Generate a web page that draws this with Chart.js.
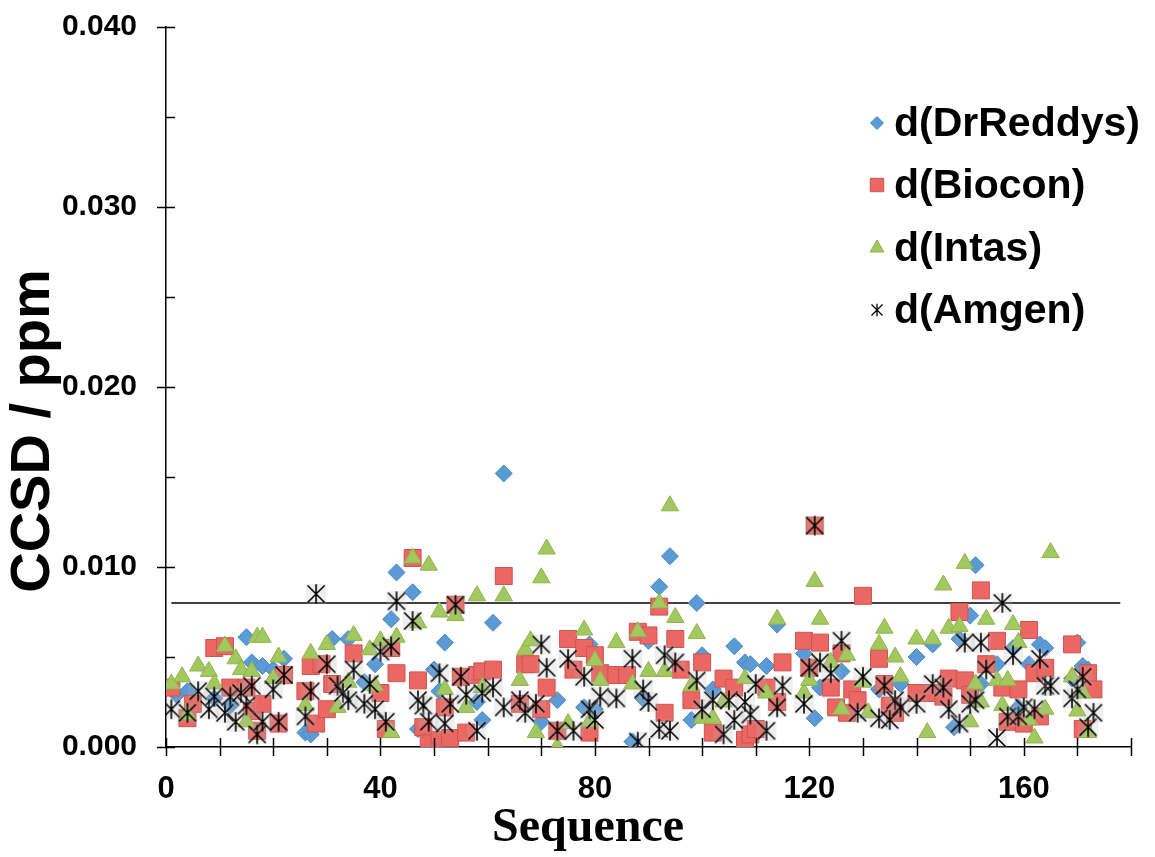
<!DOCTYPE html>
<html>
<head>
<meta charset="utf-8">
<script src="https://cdn.jsdelivr.net/npm/chart.js@4.4.0/dist/chart.umd.min.js"></script>
<style>
  html, body { margin: 0; padding: 0; background: #fff; }
  #wrap { width: 1155px; height: 857px; }
</style>
</head>
<body>
<div id="wrap"><canvas id="ccsdChart" width="1155" height="857"></canvas></div>
<script>
// residue number / CCSD (ppm)
const drReddysSeq = [2, 4, 9, 12, 15, 16, 18, 20, 22, 26, 27, 31, 34, 37, 39, 42, 43, 46, 47, 50, 51, 52, 58, 59, 61, 63, 70, 73, 78, 79, 80, 87, 89, 90, 92, 94, 98, 99, 100, 102, 106, 108, 109, 112, 114, 119, 121, 122, 126, 133, 137, 140, 143, 147, 148, 150, 151, 152, 155, 158, 159, 161, 163, 164, 169, 170, 171, 172];
const drReddysVal = [0.0029, 0.0031, 0.0027, 0.0023, 0.0061, 0.0047, 0.0045, 0.0043, 0.0049, 0.0008, 0.0007, 0.0060, 0.0060, 0.0036, 0.0046, 0.0071, 0.0097, 0.0086, 0.0010, 0.0043, 0.0031, 0.0058, 0.0025, 0.0015, 0.0069, 0.0152, 0.0014, 0.0026, 0.0022, 0.0057, 0.0021, 0.0003, 0.0027, 0.0059, 0.0089, 0.0106, 0.0015, 0.0080, 0.0051, 0.0032, 0.0056, 0.0047, 0.0046, 0.0045, 0.0068, 0.0052, 0.0016, 0.0033, 0.0042, 0.0032, 0.0035, 0.0050, 0.0057, 0.0011, 0.0060, 0.0073, 0.0101, 0.0035, 0.0046, 0.0055, 0.0022, 0.0046, 0.0057, 0.0055, 0.0038, 0.0058, 0.0045, 0.0043];

const bioconSeq = [1, 4, 5, 9, 11, 12, 15, 16, 17, 18, 21, 22, 26, 27, 28, 29, 30, 31, 35, 40, 41, 42, 43, 46, 47, 48, 49, 51, 52, 53, 54, 55, 56, 58, 59, 61, 63, 66, 67, 68, 70, 71, 73, 75, 76, 78, 79, 80, 81, 84, 86, 88, 90, 92, 93, 95, 96, 98, 100, 102, 104, 106, 108, 109, 110, 112, 114, 115, 119, 120, 121, 122, 124, 125, 126, 127, 128, 129, 130, 133, 134, 135, 136, 140, 143, 145, 146, 148, 149, 150, 152, 153, 155, 156, 157, 159, 160, 161, 162, 163, 164, 169, 171, 172, 173];
const bioconVal = [0.0033, 0.0016, 0.0024, 0.0055, 0.0056, 0.0033, 0.0033, 0.0020, 0.0009, 0.0024, 0.0013, 0.0040, 0.0031, 0.0045, 0.0013, 0.0046, 0.0021, 0.0035, 0.0052, 0.0030, 0.0010, 0.0055, 0.0041, 0.0105, 0.0037, 0.0011, 0.0002, 0.0004, 0.0022, 0.0005, 0.0079, 0.0039, 0.0008, 0.0040, 0.0042, 0.0043, 0.0095, 0.0024, 0.0046, 0.0046, 0.0021, 0.0033, 0.0009, 0.0060, 0.0043, 0.0055, 0.0008, 0.0051, 0.0041, 0.0040, 0.0040, 0.0064, 0.0062, 0.0078, 0.0019, 0.0060, 0.0043, 0.0026, 0.0047, 0.0008, 0.0038, 0.0033, 0.0004, 0.0007, 0.0010, 0.0033, 0.0025, 0.0047, 0.0059, 0.0044, 0.0123, 0.0058, 0.0033, 0.0022, 0.0052, 0.0019, 0.0032, 0.0026, 0.0084, 0.0049, 0.0035, 0.0023, 0.0019, 0.0030, 0.0030, 0.0028, 0.0038, 0.0075, 0.0037, 0.0029, 0.0087, 0.0046, 0.0059, 0.0033, 0.0014, 0.0032, 0.0013, 0.0065, 0.0041, 0.0017, 0.0044, 0.0057, 0.0010, 0.0041, 0.0032];

const intasSeq = [1, 3, 4, 6, 8, 9, 11, 13, 14, 15, 16, 17, 18, 20, 21, 26, 27, 30, 32, 34, 35, 38, 39, 40, 42, 43, 46, 47, 49, 51, 52, 54, 56, 58, 59, 63, 66, 67, 68, 69, 70, 71, 73, 75, 78, 79, 80, 81, 84, 87, 88, 90, 92, 93, 94, 95, 98, 99, 100, 102, 104, 108, 112, 114, 119, 120, 121, 122, 124, 126, 127, 130, 131, 133, 134, 136, 137, 140, 142, 143, 145, 146, 148, 149, 150, 151, 152, 153, 155, 156, 157, 158, 159, 161, 162, 164, 165, 169, 170, 171, 172];
const intasVal = [0.0035, 0.0039, 0.0018, 0.0045, 0.0042, 0.0035, 0.0056, 0.0049, 0.0043, 0.0014, 0.0042, 0.0061, 0.0061, 0.0038, 0.0050, 0.0023, 0.0052, 0.0057, 0.0022, 0.0036, 0.0062, 0.0054, 0.0034, 0.0059, 0.0008, 0.0061, 0.0105, 0.0069, 0.0101, 0.0075, 0.0032, 0.0073, 0.0022, 0.0084, 0.0033, 0.0084, 0.0037, 0.0054, 0.0059, 0.0008, 0.0094, 0.0110, 0.0000, 0.0013, 0.0065, 0.0014, 0.0048, 0.0037, 0.0058, 0.0035, 0.0064, 0.0042, 0.0080, 0.0042, 0.0134, 0.0072, 0.0034, 0.0063, 0.0016, 0.0016, 0.0025, 0.0038, 0.0030, 0.0071, 0.0030, 0.0037, 0.0092, 0.0071, 0.0047, 0.0021, 0.0051, 0.0036, 0.0019, 0.0057, 0.0066, 0.0050, 0.0039, 0.0060, 0.0008, 0.0060, 0.0090, 0.0066, 0.0067, 0.0102, 0.0014, 0.0035, 0.0025, 0.0071, 0.0037, 0.0023, 0.0037, 0.0068, 0.0058, 0.0015, 0.0005, 0.0021, 0.0108, 0.0039, 0.0020, 0.0030, 0.0008];

const amgenSeq = [1, 4, 6, 8, 9, 11, 12, 13, 14, 15, 16, 17, 18, 20, 21, 22, 26, 27, 28, 30, 32, 33, 34, 35, 37, 38, 39, 40, 41, 42, 43, 46, 47, 48, 49, 51, 52, 53, 54, 55, 56, 58, 59, 61, 63, 66, 67, 69, 70, 71, 73, 75, 76, 78, 79, 80, 81, 84, 87, 88, 89, 90, 92, 93, 94, 95, 99, 100, 102, 104, 105, 106, 108, 109, 110, 112, 114, 115, 119, 120, 121, 122, 124, 126, 129, 130, 133, 134, 135, 136, 137, 140, 143, 145, 146, 148, 149, 150, 151, 152, 153, 155, 156, 157, 158, 159, 160, 162, 163, 164, 165, 169, 170, 171, 172, 173];
const amgenVal = [0.0021, 0.0019, 0.0031, 0.0021, 0.0028, 0.0019, 0.0028, 0.0014, 0.0030, 0.0023, 0.0034, 0.0007, 0.0014, 0.0032, 0.0014, 0.0040, 0.0017, 0.0031, 0.0085, 0.0046, 0.0034, 0.0030, 0.0026, 0.0043, 0.0024, 0.0035, 0.0021, 0.0053, 0.0014, 0.0056, 0.0081, 0.0070, 0.0026, 0.0023, 0.0014, 0.0041, 0.0013, 0.0024, 0.0079, 0.0039, 0.0029, 0.0009, 0.0030, 0.0033, 0.0022, 0.0026, 0.0019, 0.0024, 0.0057, 0.0044, 0.0009, 0.0049, 0.0009, 0.0039, 0.0021, 0.0015, 0.0028, 0.0027, 0.0049, 0.0003, 0.0032, 0.0025, 0.0010, 0.0051, 0.0009, 0.0047, 0.0037, 0.0021, 0.0026, 0.0007, 0.0026, 0.0015, 0.0025, 0.0018, 0.0035, 0.0009, 0.0022, 0.0034, 0.0024, 0.0044, 0.0123, 0.0047, 0.0041, 0.0059, 0.0019, 0.0039, 0.0016, 0.0034, 0.0015, 0.0026, 0.0022, 0.0024, 0.0035, 0.0033, 0.0021, 0.0013, 0.0058, 0.0024, 0.0026, 0.0058, 0.0043, 0.0005, 0.0080, 0.0017, 0.0051, 0.0017, 0.0022, 0.0021, 0.0049, 0.0034, 0.0034, 0.0027, 0.0032, 0.0039, 0.0011, 0.0019];

// reference line at 0.008 ppm
const cutoffSeq = [1, 178];
const cutoffVal = 0.008;

const xLabelValues = [0, 40, 80, 120, 160];

function pairUp(seq, val) {
  return seq.map((s, i) => ({ x: s, y: val[i] }));
}

// asterisk marker (x plus vertical bar), as excel draws it
function makeStar(size, arm, lw, box) {
  const c = document.createElement("canvas");
  c.width = c.height = size;
  const g = c.getContext("2d");
  const h = size / 2;
  if (box) {
    g.fillStyle = "rgba(180,180,180,0.22)";
    g.fillRect(2, 2, size - 4, size - 4);
  }
  g.strokeStyle = "#000";
  g.lineWidth = lw;
  g.beginPath();
  g.moveTo(h - arm, h - arm); g.lineTo(h + arm, h + arm);
  g.moveTo(h + arm, h - arm); g.lineTo(h - arm, h + arm);
  g.moveTo(h, h - arm * 1.15); g.lineTo(h, h + arm * 1.15);
  g.stroke();
  return c;
}
const starBig = makeStar(24, 8.5, 1.6, true);
const starSmall = makeStar(16, 5.5, 1.3, false);

const seriesStyle = [
  { label: "d(DrReddys)", style: "rectRot", r: 8.5, lr: 6.5, fill: "#5B9BD5", edge: "#4B88C4" },
  { label: "d(Biocon)", style: "rect", r: 12, lr: 9.5, fill: "#EB6763", edge: "#CF5450" },
  { label: "d(Intas)", style: "triangle", r: 10, lr: 8, fill: "#A3C85F", edge: "#8FB44C" },
  { label: "d(Amgen)", style: starBig, r: 10, lr: 8, fill: "#000", edge: "#000" }
];

const axisExtras = {
  id: "axisExtras",
  afterDraw(chart) {
    const { ctx, chartArea, scales: { x, y } } = chart;
    ctx.save();
    ctx.strokeStyle = "#000";
    ctx.lineWidth = 1.5;

    // y tick marks: majors cross the axis, minors inside only
    y.ticks.forEach(t => {
      const py = Math.round(y.getPixelForValue(t.value)) + 0.5;
      const major = Math.round(t.value * 1000) % 10 === 0;
      ctx.beginPath();
      ctx.moveTo(chartArea.left - (major ? 9 : 0), py);
      ctx.lineTo(chartArea.left + 9, py);
      ctx.stroke();
    });
    // x tick marks
    x.ticks.forEach(t => {
      const px = Math.round(x.getPixelForValue(t.value)) + 0.5;
      ctx.beginPath();
      ctx.moveTo(px, chartArea.bottom - 9);
      ctx.lineTo(px, chartArea.bottom + 9);
      ctx.stroke();
    });

    ctx.fillStyle = "#000";
    ctx.font = "bold 31px 'Liberation Sans', Arial, sans-serif";
    ctx.textAlign = "center";
    ctx.textBaseline = "top";
    xLabelValues.forEach(v => ctx.fillText(String(v), x.getPixelForValue(v), 774));

    ctx.font = "bold 48px 'Liberation Serif', 'Times New Roman', serif";
    ctx.textBaseline = "alphabetic";
    ctx.fillText("Sequence", 588, 841);

    ctx.save();
    ctx.translate(49, 431);
    ctx.rotate(-Math.PI / 2);
    ctx.font = "bold 56px 'Liberation Sans', Arial, sans-serif";
    ctx.fillText("CCSD / ppm", 0, 0);
    ctx.restore();

    // legend
    const rows = [123, 185, 248, 310];
    ctx.font = "bold 41px 'Liberation Sans', Arial, sans-serif";
    ctx.textAlign = "left";
    ctx.textBaseline = "middle";
    seriesStyle.forEach((s, i) => {
      const ly = rows[i];
      ctx.fillStyle = s.fill;
      ctx.strokeStyle = s.edge;
      ctx.lineWidth = 1;
      if (s.style === starBig) {
        ctx.drawImage(starSmall, 877 - starSmall.width / 2, ly - starSmall.height / 2);
      } else {
        Chart.helpers.drawPoint(ctx, { pointStyle: s.style, radius: s.lr, borderWidth: 1, rotation: 0 }, 877, ly);
      }
      ctx.fillStyle = "#000";
      ctx.fillText(s.label, 894, ly + 2);
    });
    ctx.restore();
  }
};

const seqArrays = [drReddysSeq, bioconSeq, intasSeq, amgenSeq];
const valArrays = [drReddysVal, bioconVal, intasVal, amgenVal];

const datasets = seriesStyle.map((s, i) => ({
  type: "scatter",
  label: s.label,
  data: pairUp(seqArrays[i], valArrays[i]),
  pointStyle: s.style,
  pointRadius: s.r,
  pointBackgroundColor: s.fill,
  pointBorderColor: s.edge,
  pointBorderWidth: 1,
  order: 3 - i
}));

datasets.push({
  type: "line",
  label: "cutoff",
  data: cutoffSeq.map(s => ({ x: s, y: cutoffVal })),
  borderColor: "#000",
  borderWidth: 1.5,
  pointRadius: 0,
  order: 5
});

new Chart(document.getElementById("ccsdChart"), {
  data: { datasets },
  plugins: [axisExtras],
  options: {
    responsive: false,
    animation: false,
    devicePixelRatio: 1,
    layout: { padding: { top: 27, right: 24, left: 0, bottom: 0 } },
    plugins: { legend: { display: false }, tooltip: { enabled: false } },
    scales: {
      x: {
        type: "linear",
        min: 0,
        max: 180,
        ticks: { display: false, stepSize: 10 },
        grid: { display: false },
        border: { display: true, color: "#000", width: 1.5 },
        afterFit(scale) { scale.height = 110; scale.paddingLeft = 0; scale.paddingRight = 0; }
      },
      y: {
        type: "linear",
        min: 0,
        max: 0.04,
        ticks: {
          stepSize: 0.005,
          padding: 19,
          color: "#000",
          font: { family: "'Liberation Sans', Arial, sans-serif", size: 30, weight: "bold" },
          callback: v => (Math.round(v * 1000) % 10 === 0 ? v.toFixed(3) : "")
        },
        grid: { display: false, tickLength: 10 },
        border: { display: true, color: "#000", width: 1.5 },
        afterFit(scale) { scale.width = 166; scale.paddingTop = 0; scale.paddingBottom = 0; }
      }
    }
  }
});
</script>
</body>
</html>
